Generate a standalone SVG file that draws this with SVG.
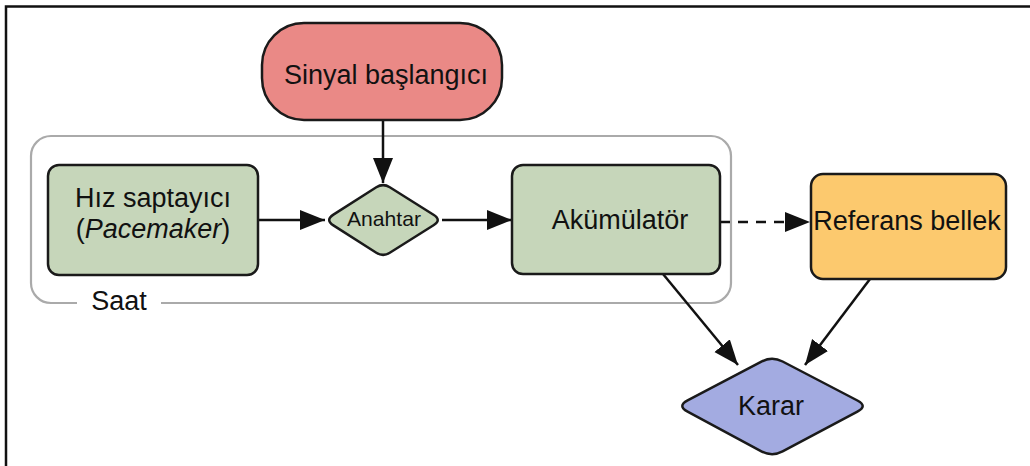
<svg xmlns="http://www.w3.org/2000/svg" width="1030" height="466" viewBox="0 0 1030 466">
<style>
  .lbl { font-family: "Liberation Sans", Arial, sans-serif; font-size: 27px; fill: #111; text-anchor: middle; }
  .node { stroke: #1a1a1a; stroke-width: 2.5; }
  .green { fill: #C6D6BA; }
  .edge { stroke: #111; stroke-width: 2.5; fill: none; }
</style>
<defs>
  <marker id="arr" markerUnits="userSpaceOnUse" markerWidth="28" markerHeight="22" refX="25" refY="10" orient="auto">
    <path d="M0,0 L25,10 L0,20 Z" fill="#111"/>
  </marker>
</defs>
<rect width="1030" height="466" fill="#fff"/>
<path d="M6,466 V6.5 H1030" fill="none" stroke="#111" stroke-width="2.5"/>

<g id="saat">
  <path d="M77,303 H51 A20,20 0 0 1 31,283 V156 A20,20 0 0 1 51,136 H711 A20,20 0 0 1 731,156 V283 A20,20 0 0 1 711,303 H161" fill="none" stroke="#aaaaaa" stroke-width="2.2"/>
  <text class="lbl" x="119" y="310">Saat</text>
</g>

<g id="connectors">
  <line class="edge" x1="383" y1="120" x2="383" y2="183" marker-end="url(#arr)"/>
  <line class="edge" x1="258" y1="220" x2="325" y2="220" marker-end="url(#arr)"/>
  <line class="edge" x1="442" y1="220" x2="512" y2="220" marker-end="url(#arr)"/>
  <line class="edge" x1="720" y1="222" x2="810" y2="222" stroke-dasharray="10,8" marker-end="url(#arr)"/>
  <line class="edge" x1="663" y1="274" x2="738" y2="365" marker-end="url(#arr)"/>
  <line class="edge" x1="870" y1="279" x2="805" y2="365" marker-end="url(#arr)"/>
</g>

<g id="sinyal">
  <rect class="node" x="262" y="23" width="240" height="97" rx="42" ry="42" fill="#EA8986"/>
  <text class="lbl" x="386" y="84">Sinyal başlangıcı</text>
</g>

<g id="hiz">
  <rect class="node green" x="48" y="165" width="210" height="110" rx="11" ry="11"/>
  <text class="lbl" x="153" y="207">Hız saptayıcı</text>
  <text class="lbl" x="153" y="238">(<tspan font-style="italic">Pacemaker</tspan>)</text>
</g>

<g id="anahtar">
  <path class="node green" d="M376.3,187.3 Q383,183 389.8,187.2 L433.5,214.7 Q442,220 433.5,225.3 L389.8,252.8 Q383,257 376.3,252.7 L333.4,225.4 Q325,220 333.4,214.6 Z"/>
  <text class="lbl" x="384" y="226" font-size="21" style="font-size:21px" textLength="74" lengthAdjust="spacingAndGlyphs">Anahtar</text>
</g>

<g id="akumulator">
  <rect class="node green" x="512" y="165" width="208" height="109" rx="11" ry="11"/>
  <text class="lbl" x="620" y="229">Akümülatör</text>
</g>

<g id="referans">
  <rect class="node" x="811" y="174" width="195" height="105" rx="12" ry="12" fill="#FCC96E"/>
  <text class="lbl" x="907" y="230">Referans bellek</text>
</g>

<g id="karar">
  <path class="node" d="M761.4,361.6 Q772,356 782.6,361.5 L857.4,400.5 Q868,406 857.4,411.6 L782.6,451.4 Q772,457 761.4,451.3 L687.6,411.7 Q677,406 687.6,400.4 Z" fill="#A3ABE1"/>
  <text class="lbl" x="771" y="415">Karar</text>
</g>
</svg>
